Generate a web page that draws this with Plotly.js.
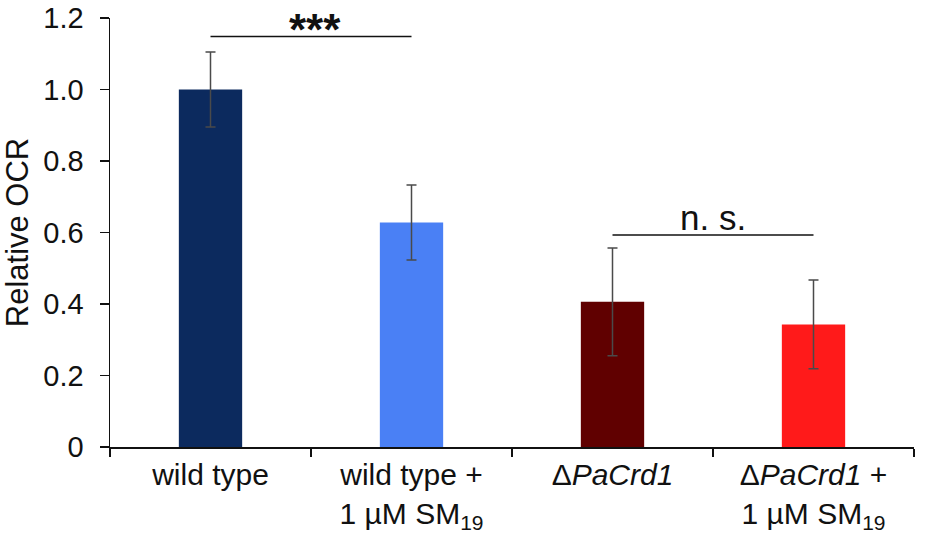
<!DOCTYPE html>
<html>
<head>
<meta charset="utf-8">
<script src="https://cdn.plot.ly/plotly-3.0.1.min.js"></script>
<style>html,body{margin:0;padding:0;background:#fff}#chart{width:926px;height:535px}</style>
</head>
<body>
<div id="chart"></div>
<script>
// Data
const categories = ["wt", "wtsm", "ko", "kosm"];
const tickLabels = [
  "wild type",
  "wild type +<br>1 µM SM<sub>19</sub>",
  "Δ<i>PaCrd1</i>",
  "Δ<i>PaCrd1</i> +<br>1 µM SM<sub>19</sub>"
];
const values = [1.0, 0.628, 0.406, 0.343];
const errors = [0.105, 0.105, 0.151, 0.124];
const barColors = ["#0c2a5e", "#4a80f5", "#600000", "#ff1a1a"];
const yTickVals = [0, 0.2, 0.4, 0.6, 0.8, 1.0, 1.2];
const yTickText = ["0", "0.2", "0.4", "0.6", "0.8", "1.0", "1.2"];
const sigLabels = ["<b>***</b>", "n. s."];
const sigFrom = [0, 2];
const sigTo = [1, 3];
const sigY = [1.148, 0.593];

const font = "Liberation Sans, Arial, sans-serif";
const sigSizes = [44, 35];
const sigShift = [-19, -4];

const trace = {
  type: "bar",
  x: categories,
  y: values,
  width: 0.315,
  marker: {color: barColors, line: {width: 0}},
  error_y: {type: "data", array: errors, visible: true, color: "#4a4a4a", thickness: 1.5, width: 5},
  hoverinfo: "none",
  cliponaxis: false
};

const shapes = sigY.map((y, i) => ({
  type: "line", xref: "x", yref: "y",
  x0: sigFrom[i], x1: sigTo[i], y0: y, y1: y,
  line: {color: "#111", width: 1.5}
}));
const annotations = sigY.map((y, i) => ({
  xref: "x", yref: "y", x: (sigFrom[i] + sigTo[i]) / 2 + (i === 0 ? 0.02 : 0), y: y,
  text: sigLabels[i], showarrow: false, yanchor: "bottom", yshift: sigShift[i],
  font: {family: font, size: sigSizes[i], color: "#111"}
}));

const layout = {
  width: 926, height: 535,
  margin: {l: 110, r: 12, t: 18, b: 88},
  paper_bgcolor: "#fff", plot_bgcolor: "#fff",
  showlegend: false,
  font: {family: font, size: 28, color: "#111"},
  xaxis: {
    type: "category",
    tickvals: categories, ticktext: tickLabels,
    range: [-0.5, 3.5],
    showline: true, linecolor: "#111", linewidth: 1.5,
    ticks: "outside", tickson: "boundaries", ticklen: 8, tickwidth: 1.5, tickcolor: "#111",
    showgrid: false, zeroline: false,
    tickfont: {family: font, size: 30, color: "#111"}
  },
  yaxis: {
    range: [0, 1.2001],
    tickvals: yTickVals,
    ticktext: yTickText,
    showline: true, linecolor: "#111", linewidth: 1.5,
    ticks: "outside", ticklen: 9, tickwidth: 1.5, tickcolor: "#111",
    ticklabelstandoff: 10,
    ticklabeloverflow: "allow",
    showgrid: false, zeroline: false,
    tickfont: {family: font, size: 29, color: "#111"},
    title: {text: "Relative OCR", font: {family: font, size: 31, color: "#111"}, standoff: 6}
  },
  shapes: shapes,
  annotations: annotations
};

Plotly.newPlot("chart", [trace], layout, {displayModeBar: false, staticPlot: true});
</script>
</body>
</html>
